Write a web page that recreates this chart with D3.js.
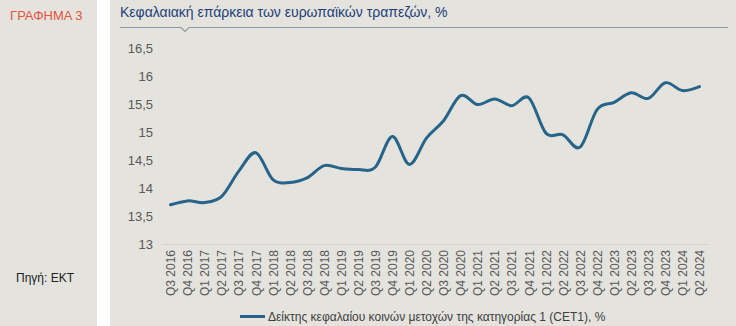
<!DOCTYPE html>
<html>
<head>
<meta charset="utf-8">
<script src="https://cdn.jsdelivr.net/npm/d3@7"></script>
<style>
  html, body { margin: 0; padding: 0; background: #ffffff; }
  svg { display: block; font-family: "Liberation Sans", Arial, sans-serif; }
</style>
</head>
<body>
<svg id="chart" width="736" height="326"></svg>
<script>
// Quarterly CET1 ratio of European banks, %
const quarters = [
  "Q3 2016", "Q4 2016",
  "Q1 2017", "Q2 2017", "Q3 2017", "Q4 2017",
  "Q1 2018", "Q2 2018", "Q3 2018", "Q4 2018",
  "Q1 2019", "Q2 2019", "Q3 2019", "Q4 2019",
  "Q1 2020", "Q2 2020", "Q3 2020", "Q4 2020",
  "Q1 2021", "Q2 2021", "Q3 2021", "Q4 2021",
  "Q1 2022", "Q2 2022", "Q3 2022", "Q4 2022",
  "Q1 2023", "Q2 2023", "Q3 2023", "Q4 2023",
  "Q1 2024", "Q2 2024"
];
const cet1 = [
  13.70, 13.77,
  13.74, 13.85, 14.30, 14.63,
  14.15, 14.10, 14.18, 14.40,
  14.35, 14.33, 14.37, 14.92,
  14.42, 14.89, 15.20, 15.65,
  15.49, 15.59, 15.47, 15.61,
  14.98, 14.95, 14.73, 15.40,
  15.53, 15.70, 15.60, 15.88,
  15.74, 15.81
];
const yTicks = [13, 13.5, 14, 14.5, 15, 15.5, 16, 16.5];

const chartTitle = "Κεφαλαιακή επάρκεια των ευρωπαϊκών τραπεζών, %";
const chartNumber = "ΓΡΑΦΗΜΑ 3";
const sourceText = "Πηγή: ΕΚΤ";
const seriesName = "Δείκτης κεφαλαίου κοινών μετοχών της κατηγορίας 1 (CET1), %";

const svg = d3.select("#chart");
const bg = "#e4e3de";

// side panel and main panel
svg.append("rect").attr("x", 0).attr("y", 0).attr("width", 97).attr("height", 326).attr("fill", bg);
svg.append("rect").attr("x", 110).attr("y", 0).attr("width", 626).attr("height", 326).attr("fill", bg);

svg.append("text").attr("x", 10).attr("y", 20)
  .attr("font-size", 13).attr("fill", "#e4553f").text(chartNumber);
svg.append("text").attr("x", 16).attr("y", 282)
  .attr("font-size", 12).attr("fill", "#222222").text(sourceText);

// title with rule and notch
svg.append("text").attr("x", 120).attr("y", 17)
  .attr("font-size", 14).attr("fill", "#22407a").text(chartTitle);
svg.append("path")
  .attr("d", "M120,27.5 H181 L185,31.5 L189,27.5 H728")
  .attr("fill", "none").attr("stroke", "#8e9aa8").attr("stroke-width", 1.2);

// scales
const x = d3.scalePoint().domain(quarters).range([162, 708]).padding(0.5);
const y = d3.scaleLinear().domain([13, 16.5]).range([244, 48]);

// y axis labels
const fmt = v => d3.format("")(v).replace(".", ",");
svg.append("g")
  .attr("transform", "translate(162,0)")
  .call(d3.axisLeft(y).tickValues(yTicks).tickFormat(fmt).tickSize(0).tickPadding(9))
  .call(g => g.select(".domain").remove())
  .call(g => g.selectAll("text")
    .attr("font-size", 13).attr("fill", "#595959")
    .attr("font-family", "Liberation Sans, Arial, sans-serif"));

// x axis with rotated labels
svg.append("g")
  .attr("transform", "translate(0,244)")
  .call(d3.axisBottom(x).tickSize(0).tickPadding(0))
  .call(g => g.select(".domain").attr("stroke", "#d3d2cd").attr("stroke-width", 1))
  .call(g => g.selectAll("text")
    .attr("font-size", 12).attr("fill", "#595959")
    .attr("font-family", "Liberation Sans, Arial, sans-serif")
    .attr("text-anchor", "end")
    .attr("dy", "0.35em")
    .attr("transform", "translate(0,6) rotate(-90)"));

// series line
const line = d3.line()
  .x((d, i) => x(quarters[i]))
  .y(d => y(d))
  .curve(d3.curveCatmullRom.alpha(0));

svg.append("path")
  .datum(cet1)
  .attr("d", line)
  .attr("fill", "none")
  .attr("stroke", "#27648a")
  .attr("stroke-width", 3)
  .attr("stroke-linecap", "round")
  .attr("stroke-linejoin", "round");

// legend
svg.append("line").attr("x1", 240).attr("x2", 265).attr("y1", 316.5).attr("y2", 316.5)
  .attr("stroke", "#27648a").attr("stroke-width", 3);
svg.append("text").attr("x", 268).attr("y", 321)
  .attr("font-size", 12).attr("fill", "#404040").text(seriesName);
</script>
</body>
</html>
